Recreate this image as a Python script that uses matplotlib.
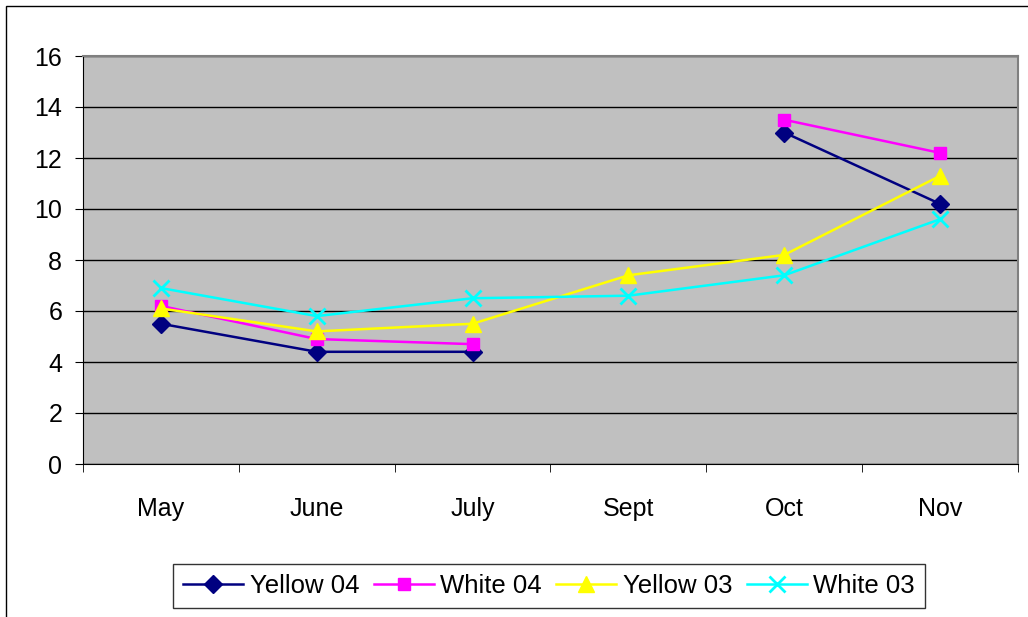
import numpy as np
import matplotlib
matplotlib.use("Agg")
import matplotlib.pyplot as plt
from matplotlib.patches import Rectangle

categories = ["May", "June", "July", "Sept", "Oct", "Nov"]
yellow_04 = [5.5, 4.4, 4.4, np.nan, 13.0, 10.2]
white_04 = [6.2, 4.9, 4.7, np.nan, 13.5, 12.2]
yellow_03 = [6.1, 5.2, 5.5, 7.4, 8.2, 11.3]
white_03 = [6.9, 5.8, 6.5, 6.6, 7.4, 9.6]
y_ticks = [0, 2, 4, 6, 8, 10, 12, 14, 16]

plt.rcParams['font.family'] = ['Liberation Sans', 'DejaVu Sans']

W, H = 1028, 617
fig = plt.figure(figsize=(W / 100, H / 100), dpi=100)
fig.patch.set_facecolor("white")

# chart-area border
fig.patches.append(Rectangle((6 / W, -0.05), 1.2, (H - 6) / H + 0.05, transform=fig.transFigure,
                             fill=False, edgecolor="black", linewidth=1.0))

left, right, top, bottom = 83, 1018, 56, 464
ax = fig.add_axes([left / W, 1 - bottom / H, (right - left) / W, (bottom - top) / H])
ax.set_facecolor("#C0C0C0")

x = np.arange(len(categories))
series = [
    ("Yellow 04", yellow_04, "#000080", "D", 9),
    ("White 04", white_04, "#FF00FF", "s", 9),
    ("Yellow 03", yellow_03, "#FFFF00", "^", 11),
    ("White 03", white_03, "#00FFFF", "x", 11),
]
for name, vals, col, mk, ms in series:
    kw = dict(color=col, linewidth=1.8, marker=mk, markersize=ms, label=name)
    if mk == "x":
        kw.update(markeredgewidth=2)
    else:
        kw.update(markeredgecolor=col)
    ax.plot(x, vals, **kw)

ax.set_xlim(-0.5, len(categories) - 0.5)
ax.set_ylim(0, 16)
ax.set_yticks(y_ticks)
ax.set_yticklabels([str(v) for v in y_ticks], fontsize=18)
ax.yaxis.grid(True, color="black", linewidth=1.0)
ax.set_axisbelow(True)

ax.set_xticks(x)
ax.set_xticklabels(categories, fontsize=18)
ax.set_xticks(np.arange(len(categories) + 1) - 0.5, minor=True)
ax.tick_params(axis="x", which="major", length=0, pad=24)
ax.tick_params(axis="x", which="minor", length=6, color="black", direction="out")
ax.tick_params(axis="y", length=6, color="black", direction="out", pad=9)

for side in ["top", "right"]:
    ax.spines[side].set_color("#808080")
    ax.spines[side].set_linewidth(1.5)
ax.spines["left"].set_color("black")
ax.spines["bottom"].set_color("black")

leg = fig.legend(loc="center", bbox_to_anchor=(549 / W, 1 - 586 / H), ncol=4,
                 fontsize=18.5, frameon=True, fancybox=False, edgecolor="black",
                 handlelength=2.35, columnspacing=0.55, handletextpad=0.25,
                 borderpad=0.4)
leg.get_frame().set_linewidth(1.0)

fig.savefig("out.png", dpi=100)
